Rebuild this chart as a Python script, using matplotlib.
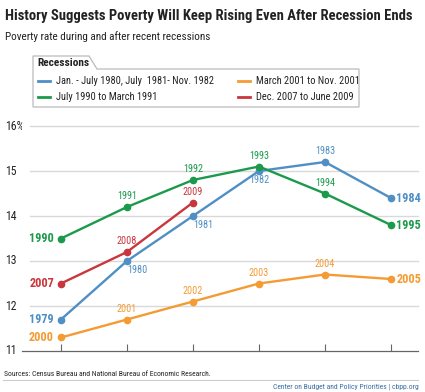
import matplotlib.pyplot as plt
from matplotlib.patches import Polygon

# data
blue_years = ["1979", "1980", "1981", "1982", "1983", "1984"]
blue_vals = [11.7, 13.0, 14.0, 15.0, 15.2, 14.4]
green_years = ["1990", "1991", "1992", "1993", "1994", "1995"]
green_vals = [13.5, 14.2, 14.8, 15.1, 14.5, 13.8]
red_years = ["2007", "2008", "2009"]
red_vals = [12.5, 13.2, 14.3]
orange_years = ["2000", "2001", "2002", "2003", "2004", "2005"]
orange_vals = [11.3, 11.7, 12.1, 12.5, 12.7, 12.6]

y_ticks = [11, 12, 13, 14, 15, 16]
y_labels = ["11", "12", "13", "14", "15", "16%"]

legend_labels = ["Jan. - July 1980, July  1981- Nov. 1982", "July 1990 to March 1991",
                 "March 2001 to Nov. 2001", "Dec. 2007 to June 2009"]

BLUE = "#4f8fc4"
GREEN = "#1b9a4b"
RED = "#c9363d"
ORANGE = "#f49b34"
INK = "#222222"

plt.rcParams["font.family"] = ["Roboto Condensed", "DejaVu Sans"]

W, H = 425, 392
fig = plt.figure(figsize=(W / 100, H / 100), dpi=100)

# main plot area, placed in pixel terms
left, right, top, bottom = 22, 418, 126, 351
ax = fig.add_axes([left / W, 1 - bottom / H, (right - left) / W, (bottom - top) / H])
ax.set_xlim(-0.59, 5.41)
ax.set_ylim(11, 16)
for s in ["top", "right", "left"]:
    ax.spines[s].set_visible(False)
ax.spines["bottom"].set_color("#666666")
ax.spines["bottom"].set_linewidth(0.9)
ax.set_yticks([])
ax.set_xticks(range(6))
ax.set_xticklabels([])
ax.tick_params(axis="x", direction="in", length=5, color="#666666", width=0.8)
# gridlines start a little right of the axis line, as in the original
for t in y_ticks[1:]:
    ax.axhline(t, xmin=8 / (right - left), color="#d9d9d9", lw=1.0, zorder=0, clip_on=False)

series = [
    (blue_vals, blue_years, BLUE,
     ["left", "br", "br", "below", "above", "right"]),
    (green_vals, green_years, GREEN,
     ["left", "above", "above", "above", "above", "right"]),
    (orange_vals, orange_years, ORANGE,
     ["left", "above", "above", "above", "above", "right"]),
    (red_vals, red_years, RED, ["left", "above", "above"]),
]

for vals, years, col, places in series:
    xs = list(range(len(vals)))
    ax.plot(xs, vals, color=col, lw=1.7, marker="o", ms=4.5, zorder=3, clip_on=False)
    for x, v, yr, p in zip(xs, vals, years, places):
        if p == "left":
            ax.annotate(yr, (x, v), xytext=(-5, 0), textcoords="offset points",
                        ha="right", va="center", color=col, fontsize=8.8, fontweight="bold")
        elif p == "right":
            ax.annotate(yr, (x, v), xytext=(4, 0), textcoords="offset points",
                        ha="left", va="center", color=col, fontsize=8.8, fontweight="bold")
        elif p == "above":
            ax.annotate(yr, (x, v), xytext=(0, 4), textcoords="offset points",
                        ha="center", va="bottom", color=col, fontsize=7.3)
        elif p == "below":
            ax.annotate(yr, (x, v), xytext=(0, -3), textcoords="offset points",
                        ha="center", va="top", color=col, fontsize=7.3)
        else:
            ax.annotate(yr, (x, v), xytext=(0, -3), textcoords="offset points",
                        ha="left", va="top", color=col, fontsize=7.3)

# overlay in pixel coordinates for the decorations
ov = fig.add_axes([0, 0, 1, 1], zorder=-1)
ov.set_xlim(0, W)
ov.set_ylim(H, 0)
ov.axis("off")

for t, lab in zip(y_ticks, y_labels):
    py = bottom - (t - 11) * (bottom - top) / 5
    ov.text(5, py, lab, ha="left", va="center", fontsize=8.5, color=INK)

ov.text(5, 16, "History Suggests Poverty Will Keep Rising Even After Recession Ends",
        ha="left", va="center", fontsize=10.5, fontweight="bold", color=INK)
ov.text(5, 37, "Poverty rate during and after recent recessions",
        ha="left", va="center", fontsize=8, color=INK)

# legend box with tab
box = Polygon([(33, 107), (33, 56), (89, 56), (97, 69), (359, 69), (359, 107)],
              closed=True, facecolor="white", edgecolor="#bbbbbb", lw=0.9)
ov.add_patch(box)
ov.text(37, 63, "Recessions", ha="left", va="center", fontsize=8.2,
        fontweight="bold", color=INK)
leg_pos = [(38, 81), (38, 97), (238, 81), (238, 97)]
for (lx, ly), lab, col in zip(leg_pos, legend_labels, [BLUE, GREEN, ORANGE, RED]):
    ov.plot([lx, lx + 12], [ly, ly], color=col, lw=2)
    ov.text(lx + 18, ly, lab, ha="left", va="center", fontsize=7.5, color=INK)

ov.text(4, 374, "Sources: Census Bureau and National Bureau of Economic Research.",
        ha="left", va="center", fontsize=5.5, color=INK)
ov.plot([3, 418], [380, 380], color="#cccccc", lw=0.8)
ov.text(419, 387, "Center on Budget and Policy Priorities | cbpp.org",
        ha="right", va="center", fontsize=5.5, color="#3a6ea5")

fig.savefig("out.png", dpi=100)
